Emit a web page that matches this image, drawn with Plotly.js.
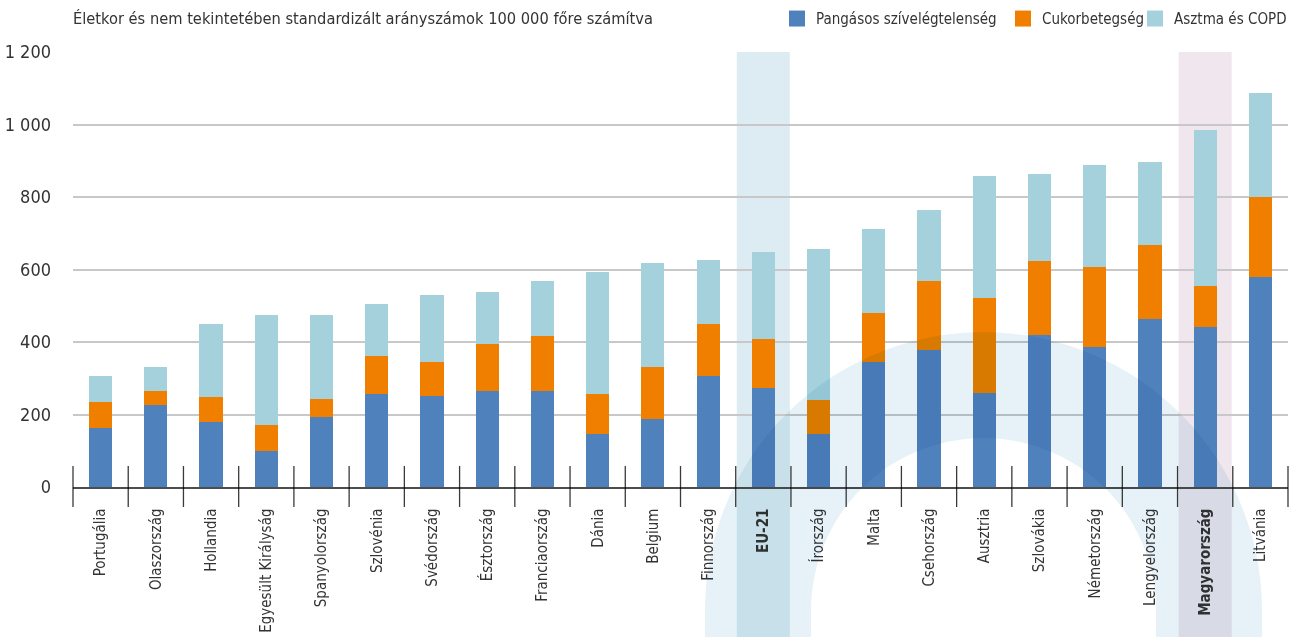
<!DOCTYPE html>
<html><head><meta charset="utf-8">
<script src="https://cdn.plot.ly/plotly-3.0.1.min.js"></script>
<style>html,body{margin:0;padding:0;background:#fff}#chart{width:1298px;height:637px}</style>
</head><body><div id="chart"></div>
<script>
const categories = ['Portugália','Olaszország','Hollandia','Egyesült Királyság','Spanyolország','Szlovénia','Svédország','Észtország','Franciaország','Dánia','Belgium','Finnország','EU-21','Írország','Malta','Csehország','Ausztria','Szlovákia','Németország','Lengyelország','Magyarország','Litvánia'];
const heartFailure = [164,227,180,99,193,257,251,265,265,147,188,307,274,147,345,379,258,418,387,464,442,578];
const diabetes     = [71,38,69,72,50,105,94,130,152,110,143,143,135,93,136,190,264,206,221,203,113,223];
const asthmaCopd   = [72,67,201,304,232,143,185,143,152,337,288,177,240,417,232,194,336,240,281,230,431,287];
const seriesNames  = ['Pangásos szívelégtelenség','Cukorbetegség','Asztma és COPD'];
const seriesColors = ['#4F81BD','#F07F00','#A4D1DC'];
const highlightCats = ['EU-21','Magyarország'];
const highlightColors = ['#DDECF2','#F0E6EE'];
const yTickVals = [0,200,400,600,800,1000,1200];
const yTickText = ['0','200','400','600','800','1 000','1 200'];
const titleText = 'Életkor és nem tekintetében standardizált arányszámok 100 000 főre számítva';

const FONT = '"Liberation Sans Narrow", "DejaVu Sans Condensed", "Open Sans", sans-serif';
const W = 1298, H = 637;
const ML = 73, MR = 10, MT = 51.5, MB = 150;
const PW = W - ML - MR, PH = H - MT - MB;
const px2paperX = p => (p - ML) / PW;
const px2paperY = p => (H - MB - p) / PH;
const n = categories.length;

const values = [heartFailure, diabetes, asthmaCopd];
const traces = values.map((v, k) => ({
  type: 'bar', x: categories, y: v, name: seriesNames[k],
  marker: {color: seriesColors[k], line: {width: 0}},
  showlegend: false, hoverinfo: 'skip'
}));

const shapes = [];
// highlight columns
highlightCats.forEach((c, k) => {
  const i = categories.indexOf(c);
  shapes.push({type: 'rect', xref: 'paper', yref: 'paper', layer: 'below',
    x0: (i + 0.02) / n, x1: (i + 0.98) / n, y0: px2paperY(H + 2), y1: 1,
    fillcolor: highlightColors[k], line: {width: 0}});
});
// category boundary ticks
for (let i = 0; i <= n; i++) {
  shapes.push({type: 'line', xref: 'paper', yref: 'paper', layer: 'above',
    x0: i / n, x1: i / n, ysizemode: 'pixel', yanchor: 0, y0: -20, y1: 21,
    line: {color: '#3a3a3a', width: 1.3}});
}
// decorative arch
(function () {
  const cx = 983.5, cy = 610.5, R = 278.5, r = 172.5, bottom = H + 2;
  let d = `M${px2paperX(cx - R)},${px2paperY(bottom)}`;
  for (let a = 180; a >= 0; a -= 3) {
    const t = a * Math.PI / 180;
    d += ` L${px2paperX(cx + R * Math.cos(t))},${px2paperY(cy - R * Math.sin(t))}`;
  }
  d += ` L${px2paperX(cx + R)},${px2paperY(bottom)} L${px2paperX(cx + r)},${px2paperY(bottom)}`;
  for (let a = 0; a <= 180; a += 3) {
    const t = a * Math.PI / 180;
    d += ` L${px2paperX(cx + r * Math.cos(t))},${px2paperY(cy - r * Math.sin(t))}`;
  }
  d += ` L${px2paperX(cx - r)},${px2paperY(bottom)} Z`;
  shapes.push({type: 'path', xref: 'paper', yref: 'paper', layer: 'above', path: d,
    fillcolor: '#E6F2F7', line: {width: 0}});
})();

// manual legend
const legendSquares = [789, 1015, 1147];
const annotations = [];
seriesNames.forEach((nm, k) => {
  shapes.push({type: 'rect', xref: 'paper', yref: 'paper', layer: 'above',
    x0: px2paperX(legendSquares[k]), x1: px2paperX(legendSquares[k] + 16),
    y0: px2paperY(26), y1: px2paperY(10), fillcolor: seriesColors[k], line: {width: 0}});
  annotations.push({xref: 'paper', yref: 'paper', x: px2paperX(legendSquares[k] + 25), y: px2paperY(18),
    xanchor: 'left', yanchor: 'middle', showarrow: false, text: nm,
    font: {family: FONT, size: 15, color: '#333333'}});
});

const tickText = categories.map(c => highlightCats.includes(c) ? '<b>' + c + '</b>' : c);

const layout = {
  width: W, height: H,
  margin: {l: ML, r: MR, t: MT, b: MB, pad: 0},
  paper_bgcolor: '#ffffff', plot_bgcolor: 'rgba(0,0,0,0)',
  barmode: 'stack', bargap: 0.58,
  showlegend: false,
  title: {text: titleText, xref: 'paper', x: 0, xanchor: 'left', yref: 'container', y: 1 - 18 / H, yanchor: 'middle',
    font: {family: FONT, size: 16.3, color: '#333333'}},
  font: {family: FONT, color: '#333333'},
  xaxis: {type: 'category', tickmode: 'array', tickvals: categories, ticktext: tickText,
    tickangle: -90, ticks: '', showgrid: false, zeroline: false,
    showline: true, linecolor: '#4D4D4D', linewidth: 1.5,
    tickfont: {family: FONT, size: 15, color: '#333333'}, ticklabelstandoff: 14, fixedrange: true},
  yaxis: {range: [0, 1200], tickmode: 'array', tickvals: yTickVals, ticktext: yTickText,
    showgrid: true, gridcolor: '#C8C8C8', gridwidth: 2, zeroline: false, ticks: '',
    tickfont: {family: FONT, size: 18, color: '#333333'}, ticklabelstandoff: 21, fixedrange: true},
  shapes: shapes,
  annotations: annotations
};

Plotly.newPlot('chart', traces, layout, {displayModeBar: false, staticPlot: true}).then(() => {
  document.querySelectorAll('#chart .layer-above .shapelayer path').forEach(p => { p.style.mixBlendMode = 'multiply'; });
});
</script>
</body></html>
